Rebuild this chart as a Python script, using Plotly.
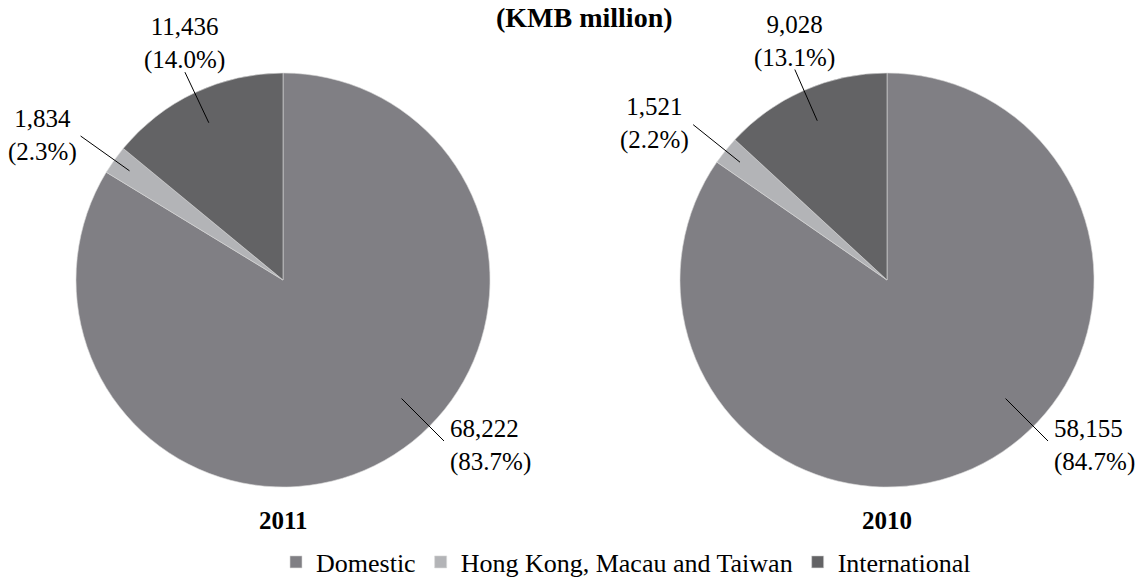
import math
import plotly.graph_objects as go

# ---------------- data ----------------
title_text = "(KMB million)"
categories = ["Domestic", "Hong Kong, Macau and Taiwan", "International"]
years = ["2011", "2010"]
values_2011 = [68222, 1834, 11436]
values_2010 = [58155, 1521, 9028]
pct_2011 = [83.7, 2.3, 14.0]
pct_2010 = [84.7, 2.2, 13.1]
colors = ["#807f84", "#b3b4b7", "#636365"]

# ---------------- layout constants (px) ----------------
W, H = 1147, 579
PIE_R = 207
PIE_CY = 280
PIE_CX = [283, 887]
FONT = "Liberation Serif"

# leader line / label style per category
label_style = {
    "Domestic": dict(angle=135, r0=0.81, r1=1.10, xanchor="left", yanchor="middle", align="left", ox=4, oy=4),
    "Hong Kong, Macau and Taiwan": dict(angle=None, r0=0.91, r1=1.20, xanchor="right", yanchor="middle", align="center", ox=-2, oy=-1),
    "International": dict(angle=None, r0=0.84, r1=1.11, xanchor="center", yanchor="bottom", align="center", ox=0, oy=4),
}


def px2paper(x, y):
    return x / W, 1 - y / H


fig = go.Figure()
annotations = []
shapes = []

for i, (year, vals, pcts) in enumerate(zip(years, [values_2011, values_2010], [pct_2011, pct_2010])):
    cx = PIE_CX[i]
    x0, y1 = px2paper(cx - PIE_R, PIE_CY - PIE_R)
    x1, y0 = px2paper(cx + PIE_R, PIE_CY + PIE_R)
    fig.add_trace(go.Pie(
        labels=categories,
        values=vals,
        sort=False,
        direction="clockwise",
        rotation=0,
        textinfo="none",
        hoverinfo="label+value+percent",
        marker=dict(colors=colors, line=dict(color="#d9d9d9", width=0.6)),
        domain=dict(x=[x0, x1], y=[y0, y1]),
        showlegend=(i == 0),
        name=year,
    ))

    total = sum(vals)
    cum = 0.0
    for cat, v, p in zip(categories, vals, pcts):
        frac = v / total
        mid = (cum + frac / 2) * 360.0
        cum += frac
        st = label_style[cat]
        ang = math.radians(st["angle"] if st["angle"] is not None else mid)
        sx = cx + st["r0"] * PIE_R * math.sin(ang)
        sy = PIE_CY - st["r0"] * PIE_R * math.cos(ang)
        ex = cx + st["r1"] * PIE_R * math.sin(ang)
        ey = PIE_CY - st["r1"] * PIE_R * math.cos(ang)
        px0, py0 = px2paper(sx, sy)
        px1, py1 = px2paper(ex, ey)
        shapes.append(dict(type="line", xref="paper", yref="paper",
                           x0=px0, y0=py0, x1=px1, y1=py1,
                           line=dict(color="black", width=1)))
        tx, ty = px2paper(ex + st["ox"], ey + st["oy"])
        annotations.append(dict(
            xref="paper", yref="paper", x=tx, y=ty,
            xanchor=st["xanchor"], yanchor=st["yanchor"], align=st["align"],
            text=f"{v:,}<br>({p:.1f}%)", showarrow=False,
            font=dict(family=FONT, size=25, color="black")))

    yx, yy = px2paper(cx, 520)
    annotations.append(dict(xref="paper", yref="paper", x=yx, y=yy,
                            xanchor="center", yanchor="middle",
                            text=f"<b>{year}</b>", showarrow=False,
                            font=dict(family=FONT, size=25, color="black")))

tx, ty = px2paper(584, 0)
annotations.append(dict(xref="paper", yref="paper", x=tx, y=ty,
                        xanchor="center", yanchor="top",
                        text=f"<b>{title_text}</b>", showarrow=False,
                        font=dict(family=FONT, size=28, color="black")))

lx, ly = px2paper(626, 562)
fig.update_layout(
    width=W, height=H,
    margin=dict(l=0, r=0, t=0, b=0, pad=0, autoexpand=False),
    paper_bgcolor="white", plot_bgcolor="white",
    font=dict(family=FONT, color="black"),
    annotations=annotations,
    shapes=shapes,
    legend=dict(orientation="h", x=lx, xanchor="center", y=ly, yanchor="middle",
                font=dict(family=FONT, size=26, color="black"),
                bgcolor="rgba(0,0,0,0)"),
)

fig.write_html("out.html")
